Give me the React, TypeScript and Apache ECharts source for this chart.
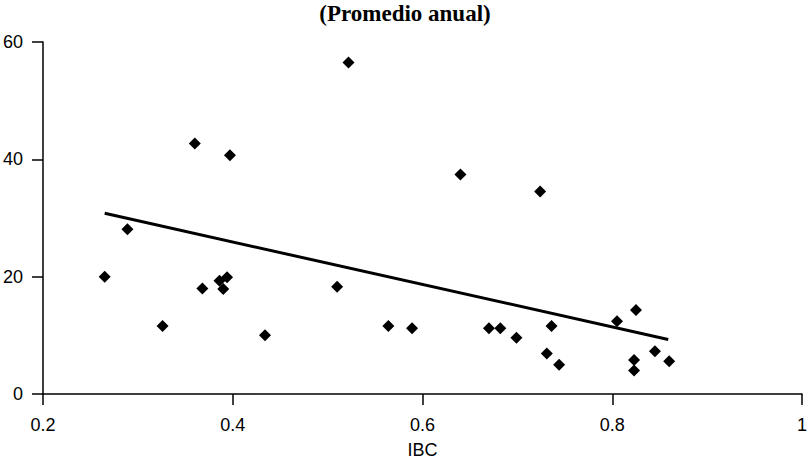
import React, { useEffect, useRef } from "react";
import * as echarts from "echarts";

const titleText = "(Promedio anual)";
const xAxisName = "IBC";

const ibcValues = [
  0.265, 0.289, 0.326, 0.36, 0.368, 0.386, 0.39, 0.394, 0.397, 0.434,
  0.51, 0.522, 0.564, 0.589, 0.64, 0.67, 0.682, 0.699, 0.724, 0.731,
  0.736, 0.744, 0.805, 0.823, 0.823, 0.825, 0.845, 0.86,
];
const yValues = [
  20.0, 28.1, 11.6, 42.7, 18.0, 19.3, 17.9, 19.9, 40.7, 10.0,
  18.3, 56.5, 11.6, 11.2, 37.4, 11.2, 11.2, 9.6, 34.5, 6.9,
  11.6, 5.0, 12.4, 5.8, 4.0, 14.3, 7.3, 5.6,
];
const trendX = [0.265, 0.859];
const trendY = [30.8, 9.3];

export default function App() {
  const ref = useRef<HTMLDivElement>(null);
  useEffect(() => {
    if (!ref.current) return;
    const chart = echarts.init(ref.current, undefined, { renderer: "svg" });
    const axisFont = "'Liberation Sans', Arial, sans-serif";
    chart.setOption({
      animation: false,
      backgroundColor: "#ffffff",
      grid: { left: 42, right: 4, top: 42, bottom: 65 },
      graphic: [
        {
          type: "text",
          x: 405,
          y: 2,
          style: {
            text: titleText,
            fontFamily: "'Liberation Serif', 'DejaVu Serif', serif",
            fontWeight: "bold",
            fontSize: 23,
            fill: "#000",
            textAlign: "center",
            textVerticalAlign: "top",
          },
        },
      ],
      xAxis: {
        type: "value",
        min: 0.2,
        max: 1,
        interval: 0.2,
        name: xAxisName,
        nameLocation: "middle",
        nameGap: 47,
        nameTextStyle: { fontFamily: axisFont, fontSize: 18, color: "#000" },
        axisLine: { show: true, lineStyle: { color: "#000", width: 1.5 } },
        axisTick: { show: true, length: 11, lineStyle: { color: "#000", width: 1.5 } },
        axisLabel: {
          margin: 22,
          fontFamily: axisFont,
          fontSize: 18,
          color: "#000",
          formatter: (v: number) => String(Math.round(v * 10) / 10),
        },
        splitLine: { show: false },
      },
      yAxis: {
        type: "value",
        min: 0,
        max: 60,
        interval: 20,
        axisLine: { show: true, lineStyle: { color: "#000", width: 1.5 } },
        axisTick: { show: true, length: 11, lineStyle: { color: "#000", width: 1.5 } },
        axisLabel: { margin: 20, fontFamily: axisFont, fontSize: 18, color: "#000" },
        splitLine: { show: false },
      },
      series: [
        {
          type: "scatter",
          symbol: "diamond",
          symbolSize: 12,
          itemStyle: { color: "#000", opacity: 1 },
          data: ibcValues.map((x, i) => [x, yValues[i]]),
          z: 3,
        },
        {
          type: "line",
          symbol: "none",
          lineStyle: { color: "#000", width: 3 },
          data: trendX.map((x, i) => [x, trendY[i]]),
          z: 2,
        },
      ],
    });
    return () => chart.dispose();
  }, []);
  return (
    <div
      ref={ref}
      style={{ position: "fixed", left: 0, top: 0, width: 810, height: 464, background: "#fff" }}
    />
  );
}
